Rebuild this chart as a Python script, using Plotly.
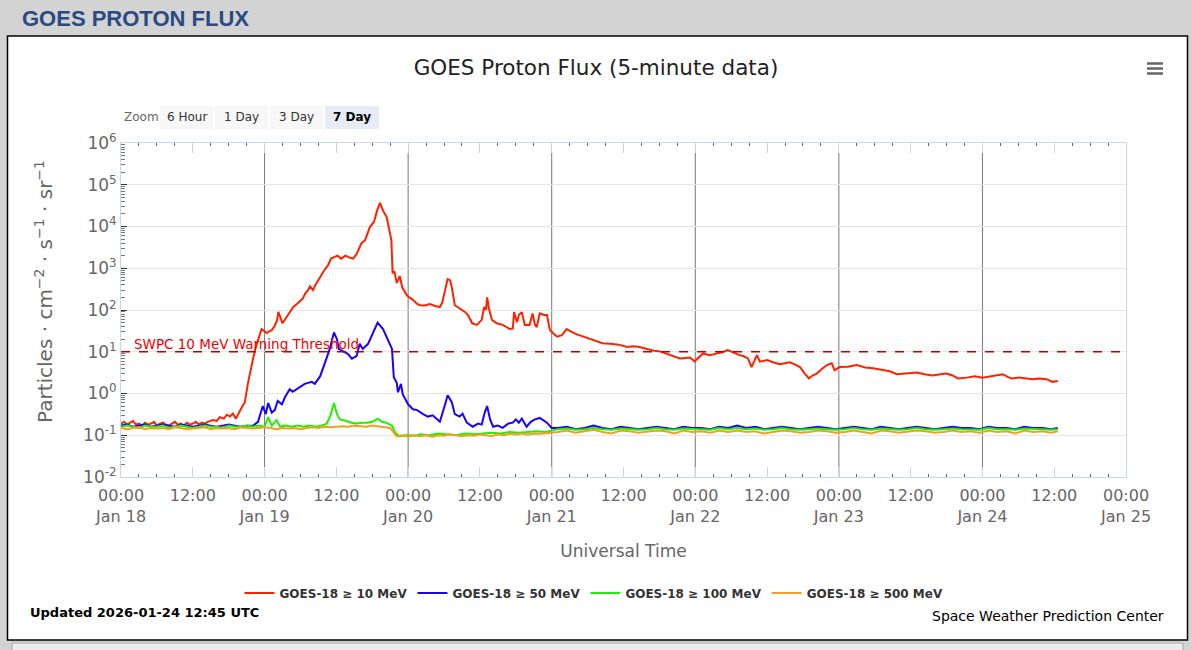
import plotly.graph_objects as go
import pandas as pd

# ---- data (hours after 2026-01-18 00:00 UTC, flux in pfu) ----
t0 = pd.Timestamp("2026-01-18 00:00")

red_h = [0, 0.5, 1, 1.5, 2, 2.5, 3, 3.5, 4, 4.5,
         5, 5.5, 6, 6.5, 7, 7.5, 8, 8.5, 9, 9.5,
         10, 10.5, 11, 11.5, 12, 12.5, 13, 13.5, 14, 14.5,
         15.4, 16, 16.5, 17.2, 17.7, 18.2, 18.7, 19.2, 19.7, 20.2,
         20.7, 21.2, 21.9, 22.4, 22.9, 23.5, 24, 24.4, 24.8, 25.2,
         25.7, 26.1, 26.3, 26.6, 27, 27.9, 28.4, 28.8, 29.4, 29.9,
         30.4, 30.8, 31.2, 31.6, 32.1, 32.5, 32.9, 33.4, 33.8, 34.2,
         34.6, 35.1, 35.6, 36.2, 36.8, 37.5, 38.2, 38.8, 39.4, 39.8,
         40.2, 40.8, 41.2, 41.6, 42.3, 42.8, 43.3, 43.8, 44.4, 44.8,
         45.2, 45.4, 45.7, 46.1, 46.6, 47.0, 47.4, 47.8, 48.2, 48.7,
         49.5, 50, 50.8, 51.6, 52.5, 53.3, 53.7, 54.1, 54.6, 55,
         55.3, 55.8, 56.4, 57, 57.5, 58, 58.7, 59.5, 60.3, 60.7,
         61, 61.2, 61.5, 62, 62.8, 63.8, 64.4, 65, 65.5, 65.7,
         66.2, 66.5, 67, 67.5, 68.3, 68.8, 69.2, 69.5, 70, 70.7,
         71.2, 71.7, 72.2, 72.9, 73.7, 74.5, 75.3, 76.2, 77.3, 78.4,
         79.5, 80.5, 81.7, 82.9, 83.8, 84.6, 85.6, 86.7, 87.6, 88.4,
         89.2, 90.1, 90.9, 91.7, 92.5, 93.4, 94.3, 95.1, 95.9, 96.6,
         97.3, 98.4, 99.5, 100.6, 101.4, 102.4, 103.4, 104.1, 104.8, 105.4,
         106.3, 106.8, 108, 109, 110.1, 111, 111.8, 112.7, 113.5, 114.3,
         115, 115.6, 116.3, 117.2, 118, 118.8, 119.3, 120.1, 121.5, 123,
         124.4, 125.7, 127.3, 128.5, 129.7, 131.4, 133, 134.3, 135.7, 137,
         138, 139, 139.9, 141.4, 142.7, 144, 145.7, 147.4, 148.2, 148.9,
         150.1, 151.4, 152.4, 153.5, 154.7, 155.7, 156.6]
red_v = [0.19, 0.21, 0.18, 0.2, 0.22, 0.18, 0.19, 0.17, 0.2, 0.18,
         0.19, 0.21, 0.17, 0.19, 0.2, 0.18, 0.17, 0.19, 0.21, 0.18,
         0.19, 0.17, 0.2, 0.18, 0.19, 0.21, 0.18, 0.2, 0.19, 0.21,
         0.23, 0.22, 0.27, 0.25, 0.31, 0.28, 0.33, 0.25, 0.36, 0.47,
         0.62, 1.7, 5.2, 11, 19, 35, 31, 28, 31, 33,
         42, 58, 90, 65, 48, 76, 95, 118, 140, 165,
         190, 250, 290, 370, 300, 400, 510, 650, 810, 1000,
         1170, 1700, 1800, 2000, 1700, 2000, 1800, 1700, 2200, 3000,
         4000, 4700, 6500, 9700, 13000, 24000, 37000, 24000, 17000, 9700,
         4700, 760, 850, 440, 650, 350, 280, 225, 200, 180,
         140, 130, 128, 138, 125, 118, 150, 250, 550, 520,
         350, 130, 115, 100, 90, 76, 48, 44, 58, 118,
         100, 200, 110, 58, 48, 44, 40, 35, 36, 89,
         51, 76, 89, 44, 44, 83, 44, 39, 83, 76,
         76, 33, 28, 23, 25, 35, 30, 26, 23, 20,
         18, 16, 15.5, 15, 14, 13, 13.5, 13, 12, 11,
         10.5, 10.2, 9.2, 8.3, 7.6, 6.9, 7.1, 7.3, 5.9, 7.5,
         9.1, 8.3, 9.0, 9.8, 11, 9.5, 8.3, 7.8, 6.9, 4.3,
         8.3, 5.8, 6.3, 5.6, 5.0, 5.3, 5.6, 4.9, 4.3, 3.0,
         2.3, 2.7, 3.0, 3.9, 4.8, 5.3, 3.6, 4.3, 4.4, 4.8,
         4.2, 4.0, 3.6, 3.4, 2.9, 3.1, 3.2, 2.9, 2.7, 2.9,
         3.0, 2.7, 2.3, 2.4, 2.6, 2.4, 2.6, 2.9, 2.5, 2.3,
         2.4, 2.3, 2.2, 2.3, 2.2, 1.9, 2.0]

blue_early_h = [0, 1, 2, 3, 4, 5, 6, 7, 8, 9, 10, 11, 12, 13, 14, 15, 16, 17, 18, 19, 20, 21,
                22.1, 22.9, 23.7, 24.2, 24.6, 25.2, 25.7, 26.2, 26.9, 27.4,
                28.2, 28.7, 29.6, 30.7, 31.9, 32.4, 33.3, 34.1, 34.9, 35.6,
                36.1, 36.4, 37.1, 37.9, 38.6, 39.4, 39.9, 40.4, 41.3, 41.9,
                42.9, 43.8, 44.6, 45.3, 45.6, 46.1, 46.3, 46.8, 47.1, 48.0,
                48.8, 49.5, 50.5, 51.3, 52.1, 53.3, 54.1, 54.6, 55.3, 55.8,
                56.6, 57.1, 57.8, 58.8, 59.7, 60.3, 60.8, 61.2, 61.7, 62.2,
                63, 63.8, 64.7, 65.5, 66, 66.5, 67, 67.8, 68.5, 69.2,
                70, 70.7, 71.2, 72]
blue_early_v = [0.17, 0.18, 0.16, 0.17, 0.18, 0.16, 0.17, 0.18, 0.17, 0.16, 0.18,
                0.17, 0.16, 0.17, 0.18, 0.17, 0.16, 0.17, 0.18, 0.17, 0.16, 0.17,
                0.17, 0.21, 0.5, 0.32, 0.59, 0.35, 0.4, 0.66, 0.55, 0.81,
                1.27, 1.1, 1.35, 1.7, 1.9, 1.7, 2.6, 5.8, 11.7, 29,
                20, 11.7, 10.5, 8.9, 6.8, 8, 15.5, 11.7, 15.5, 24,
                50, 35, 20, 11.7, 2.45, 1.8, 1.07, 1.7, 0.95, 0.55,
                0.42, 0.4, 0.32, 0.28, 0.3, 0.21, 0.5, 0.91, 0.62, 0.32,
                0.28, 0.33, 0.2, 0.16, 0.19, 0.18, 0.35, 0.5, 0.24, 0.16,
                0.17, 0.15, 0.19, 0.2, 0.24, 0.2, 0.25, 0.16, 0.21, 0.24,
                0.26, 0.22, 0.2, 0.15]

green_early_h = [0, 1, 2, 3, 4, 5, 6, 7, 8, 9, 10, 11, 12, 13, 14, 15, 16, 17, 18, 19, 20, 21, 22,
                 23, 24, 24.6, 25.2, 26, 26.6, 27.5, 28.5, 29.5, 30.5,
                 31.5, 32.5, 33.5, 34.4, 35, 35.6, 36.1, 36.6, 37.7, 38.5,
                 39.4, 40.3, 41.1, 42, 42.9, 43.6, 44.3, 45.3, 45.8, 46.6,
                 47.5, 48.3, 49.2, 50, 51.5, 53, 54.5, 56, 57.5, 59,
                 60.5, 62, 63.5, 65, 66.5, 68, 69.5, 71, 72]
green_early_v = [0.16, 0.17, 0.16, 0.15, 0.17, 0.16, 0.16, 0.17, 0.15, 0.16, 0.17, 0.16,
                 0.15, 0.16, 0.17, 0.16, 0.16, 0.15, 0.17, 0.16, 0.16, 0.17, 0.16,
                 0.17, 0.16, 0.27, 0.17, 0.23, 0.16, 0.17, 0.16, 0.17, 0.16,
                 0.17, 0.16, 0.17, 0.19, 0.3, 0.59, 0.32, 0.24, 0.22, 0.2,
                 0.19, 0.2, 0.2, 0.21, 0.25, 0.21, 0.2, 0.17, 0.117, 0.094,
                 0.1, 0.1, 0.098, 0.105, 0.1, 0.11, 0.105, 0.1, 0.11, 0.105,
                 0.11, 0.115, 0.11, 0.12, 0.115, 0.12, 0.125, 0.12, 0.13]

orange_early_h = [0, 1, 2, 3, 4, 5, 6, 7, 8, 9, 10, 11, 12, 13, 14, 15, 16, 17, 18, 19,
                  20, 21, 22, 23, 24, 25, 26, 27, 28, 29, 30, 31, 32, 33, 34, 35, 36, 37, 38, 39,
                  40, 41, 42, 43, 44, 45, 45.5, 46.1, 47, 48, 49, 50, 51, 52, 53, 54,
                  55, 56, 57, 58, 59, 60, 61, 62, 63, 64, 65, 66, 67, 68, 69, 70, 71, 72]
orange_early_v = [0.15, 0.14, 0.15, 0.155, 0.14, 0.15, 0.145, 0.15, 0.14, 0.155,
                  0.15, 0.14, 0.145, 0.15, 0.155, 0.14, 0.15, 0.145, 0.15, 0.14,
                  0.155, 0.15, 0.145, 0.15, 0.155, 0.15, 0.14, 0.15, 0.145, 0.15,
                  0.14, 0.15, 0.155, 0.15, 0.16, 0.155, 0.16, 0.165, 0.16, 0.17,
                  0.165, 0.16, 0.17, 0.165, 0.16, 0.15, 0.12, 0.094, 0.1, 0.092,
                  0.1, 0.095, 0.1, 0.092, 0.1, 0.097, 0.105, 0.1, 0.095, 0.1,
                  0.098, 0.104, 0.1, 0.095, 0.105, 0.1, 0.108, 0.104, 0.11, 0.105,
                  0.11, 0.108, 0.112, 0.115]

late_h = [73, 74.5, 76, 77.5, 79, 80.5, 82, 83.5, 85, 86.5,
          88, 89.5, 91, 92.5, 94, 95.5, 97, 98.5, 100, 101.5,
          103, 104.5, 106, 107.5, 109, 110.5, 112, 113.5, 115, 116.5,
          118, 119.5, 121, 122.5, 124, 125.5, 127, 128.5, 130, 131.5,
          133, 134.5, 136, 137.5, 139, 140.5, 142, 143.5, 145, 146.5,
          148, 149.5, 151, 152.5, 154, 155.5, 156.6]
blue_late_v = [0.15, 0.16, 0.14, 0.15, 0.17, 0.15, 0.14, 0.16, 0.15, 0.14,
               0.15, 0.16, 0.15, 0.14, 0.16, 0.15, 0.15, 0.14, 0.16, 0.15,
               0.17, 0.15, 0.16, 0.14, 0.15, 0.16, 0.15, 0.14, 0.15, 0.16,
               0.15, 0.14, 0.15, 0.16, 0.15, 0.14, 0.16, 0.15, 0.14, 0.15,
               0.16, 0.15, 0.14, 0.15, 0.16, 0.15, 0.15, 0.14, 0.16, 0.15,
               0.15, 0.14, 0.16, 0.15, 0.15, 0.14, 0.15]
green_late_v = [0.14, 0.145, 0.135, 0.14, 0.15, 0.14, 0.135, 0.145, 0.14, 0.135,
                0.14, 0.15, 0.14, 0.135, 0.145, 0.14, 0.14, 0.135, 0.15, 0.14,
                0.15, 0.14, 0.145, 0.135, 0.14, 0.15, 0.14, 0.135, 0.14, 0.145,
                0.14, 0.135, 0.14, 0.15, 0.14, 0.135, 0.145, 0.14, 0.135, 0.14,
                0.15, 0.14, 0.135, 0.14, 0.145, 0.14, 0.14, 0.135, 0.15, 0.14,
                0.14, 0.135, 0.145, 0.14, 0.14, 0.135, 0.14]
orange_late_v = [0.12, 0.13, 0.115, 0.125, 0.135, 0.12, 0.11, 0.13, 0.125, 0.115,
                 0.12, 0.13, 0.125, 0.11, 0.13, 0.12, 0.125, 0.115, 0.13, 0.12,
                 0.13, 0.12, 0.125, 0.11, 0.12, 0.13, 0.125, 0.115, 0.12, 0.13,
                 0.125, 0.115, 0.12, 0.13, 0.12, 0.11, 0.13, 0.125, 0.115, 0.12,
                 0.13, 0.125, 0.115, 0.12, 0.13, 0.12, 0.125, 0.115, 0.13, 0.12,
                 0.125, 0.11, 0.13, 0.12, 0.125, 0.115, 0.125]

series = [
    ("GOES-18 ≥ 10 MeV", "#ff2200", red_h, red_v),
    ("GOES-18 ≥ 50 MeV", "#1a00ff", blue_early_h + late_h, blue_early_v + blue_late_v),
    ("GOES-18 ≥ 100 MeV", "#22ee00", green_early_h + late_h, green_early_v + green_late_v),
    ("GOES-18 ≥ 500 MeV", "#f0a020", orange_early_h + late_h, orange_early_v + orange_late_v),
]

threshold = 10
day_lines = ["2026-01-19", "2026-01-20", "2026-01-21", "2026-01-22", "2026-01-23", "2026-01-24"]
xtick_vals = ["2026-01-18 00:00", "2026-01-18 12:00", "2026-01-19 00:00", "2026-01-19 12:00",
              "2026-01-20 00:00", "2026-01-20 12:00", "2026-01-21 00:00", "2026-01-21 12:00",
              "2026-01-22 00:00", "2026-01-22 12:00", "2026-01-23 00:00", "2026-01-23 12:00",
              "2026-01-24 00:00", "2026-01-24 12:00", "2026-01-25 00:00"]
xtick_text = ["00:00<br>Jan 18", "12:00", "00:00<br>Jan 19", "12:00", "00:00<br>Jan 20", "12:00",
              "00:00<br>Jan 21", "12:00", "00:00<br>Jan 22", "12:00", "00:00<br>Jan 23", "12:00",
              "00:00<br>Jan 24", "12:00", "00:00<br>Jan 25"]
ytick_vals = [1e-2, 1e-1, 1e0, 1e1, 1e2, 1e3, 1e4, 1e5, 1e6]
ytick_text = ["10<sup>-2</sup>", "10<sup>-1</sup>", "10<sup>0</sup>", "10<sup>1</sup>", "10<sup>2</sup>",
              "10<sup>3</sup>", "10<sup>4</sup>", "10<sup>5</sup>", "10<sup>6</sup>"]
zoom_buttons = ["6 Hour", "1 Day", "3 Day", "7 Day"]

# ---- page geometry (pixels) ----
W, H = 1192, 650
L, R, T, B = 121, 66, 143, 173


def px(x):
    return (x - L) / (W - L - R)


def py(y):
    return (H - B - y) / (H - T - B)


fig = go.Figure()
for name, color, hrs, vals in series:
    assert len(hrs) == len(vals), name
    fig.add_trace(go.Scatter(
        x=t0 + pd.to_timedelta(hrs, unit="h"), y=vals, name=name, mode="lines",
        line=dict(color=color, width=2)))

shapes = [
    # white panel
    dict(type="rect", xref="paper", yref="paper", x0=px(7.5), x1=px(1187.5), y0=py(640), y1=py(36),
         fillcolor="white", line=dict(color="black", width=1.5), layer="below"),
    dict(type="rect", xref="paper", yref="paper", x0=px(12), x1=px(1183), y0=py(660), y1=py(643),
         fillcolor="#ececec", line=dict(color="#a8a8a8", width=1), layer="below"),
    # threshold
    dict(type="line", xref="paper", yref="y", x0=0, x1=1, y0=threshold, y1=threshold,
         line=dict(color="#c00000", width=1.6, dash="dash"), layer="above"),
]
for d in day_lines:
    shapes.append(dict(type="line", xref="x", yref="paper", x0=d, x1=d, y0=0, y1=py(153),
                       line=dict(color="#777777", width=1), layer="between"))
# menu icon
for yy in [63.5, 68.5, 73.5]:
    shapes.append(dict(type="line", xref="paper", yref="paper", x0=px(1147), x1=px(1163), y0=py(yy), y1=py(yy),
                       line=dict(color="#666666", width=2.5)))

annotations = [
    dict(text="<b>GOES PROTON FLUX</b>", x=px(20), y=py(18), xanchor="left", yanchor="middle",
         font=dict(family="Liberation Sans", size=22, color="#294a82")),
    dict(text="SWPC 10 MeV Warning Threshold", x=px(132), y=1, xref="paper", yref="y",
         xanchor="left", yanchor="bottom", yshift=-2, font=dict(size=13.5, color="#ee0000")),
    dict(text="Particles · cm<sup>−2</sup> · s<sup>−1</sup> · sr<sup>−1</sup>", x=px(44), y=py(292),
         xanchor="center", yanchor="middle", textangle=-90, font=dict(size=20, color="#666666")),
    dict(text="Zoom", x=px(122), y=py(117), xanchor="left", yanchor="middle",
         font=dict(size=12, color="#666666")),
    dict(text="<b>Updated 2026-01-24 12:45 UTC</b>", x=px(28), y=py(612), xanchor="left", yanchor="middle",
         font=dict(size=13, color="black")),
    dict(text="Space Weather Prediction Center", x=px(1166), y=py(616), xanchor="right", yanchor="middle",
         font=dict(size=14, color="black")),
]
btn_x = [(160, 213), (215, 268), (270, 323), (325, 379)]
for label, (a, b) in zip(zoom_buttons, btn_x):
    active = label == "7 Day"
    shapes.append(dict(type="rect", xref="paper", yref="paper", x0=px(a), x1=px(b), y0=py(129), y1=py(106),
                       fillcolor="#e6ebf5" if active else "#f7f7f7", line=dict(width=0)))
    annotations.append(dict(text=f"<b>{label}</b>" if active else label, x=px((a + b) / 2), y=py(117),
                            xanchor="center", yanchor="middle",
                            font=dict(size=12, color="black" if active else "#333333")))
for a in annotations:
    a.setdefault("xref", "paper")
    a.setdefault("yref", "paper")
    a["showarrow"] = False

fig.update_layout(
    template="none",
    width=W, height=H,
    margin=dict(l=L, r=R, t=T, b=B),
    paper_bgcolor="#d3d3d3",
    plot_bgcolor="white",
    font=dict(family="DejaVu Sans", color="#333333"),
    title=dict(text="GOES Proton Flux (5-minute data)", x=0.5, xanchor="center",
               y=1 - 67 / H, yanchor="middle", font=dict(size=21.5, color="#222222")),
    shapes=shapes,
    annotations=annotations,
    showlegend=True,
    legend=dict(orientation="h", x=px(594), xanchor="center", y=py(593), yanchor="middle",
                font=dict(size=12, color="#333333", weight="bold"), bgcolor="rgba(0,0,0,0)", itemwidth=30),
    hovermode=False,
)
fig.update_xaxes(
    type="date", range=["2026-01-18", "2026-01-25"],
    tickmode="array", tickvals=xtick_vals, ticktext=xtick_text,
    ticks="inside", ticklen=10, tickcolor="#ccd6eb", tickwidth=1, ticklabelstandoff=4,
    minor=dict(ticks="inside", ticklen=3, tickcolor="#666666", tick0="2026-01-18",
               dtick=3 * 3600 * 1000, showgrid=False),
    showline=True, linecolor="#ccd6eb", linewidth=1, mirror="ticks",
    showgrid=False, zeroline=False,
    tickfont=dict(size=16, color="#666666"),
    title=dict(text="Universal Time", font=dict(size=17, color="#666666"), standoff=20),
)
fig.update_yaxes(
    type="log", range=[-2, 6],
    tickvals=ytick_vals, ticktext=ytick_text,
    ticks="inside", ticklen=6, tickcolor="#333333",
    minor=dict(ticks="inside", ticklen=4, tickcolor="#777777", dtick="D1", showgrid=False),
    showline=True, linecolor="#ccd6eb", linewidth=1, mirror=True,
    showgrid=True, gridcolor="#e6e6e6", zeroline=False,
    tickfont=dict(size=17, color="#666666"),
)

fig.write_html("out.html", config={"displayModeBar": False},
               post_script="document.body.style.margin='0';document.body.style.background='#d3d3d3';")
